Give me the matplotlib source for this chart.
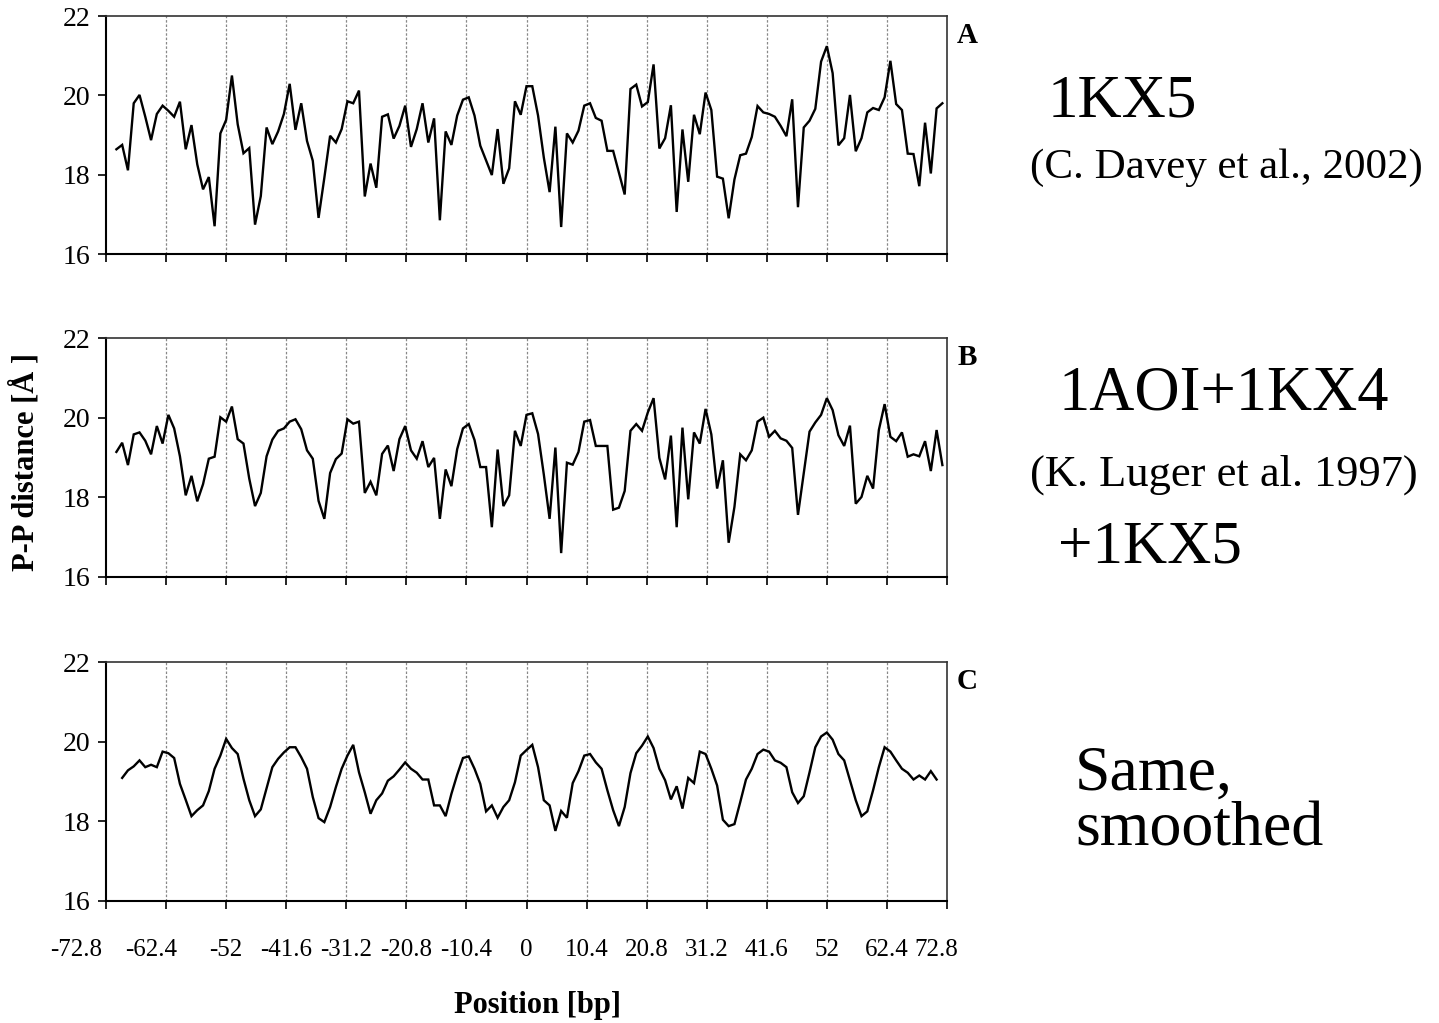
import numpy as np
import matplotlib
matplotlib.use("Agg")
import matplotlib.pyplot as plt
from matplotlib.transforms import ScaledTranslation

plt.rcParams["font.family"] = ["Liberation Serif", "DejaVu Serif"]

# Base-pair positions (panels A and B cover -71..72, smoothed panel C -70..71)
pos_ab = np.arange(-71, 73)
pos_c = np.arange(-70, 72)

# P-P distances [Å], 1KX5 crystal structure
dist_1kx5 = [
    18.64, 18.75, 18.11, 19.80, 20.01, 19.46, 18.87, 19.53, 19.74, 19.61,
    19.46, 19.84, 18.64, 19.25, 18.26, 17.63, 17.94, 16.70, 19.04, 19.38,
    20.50, 19.27, 18.54, 18.67, 16.74, 17.46, 19.19, 18.77, 19.09, 19.53,
    20.29, 19.13, 19.80, 18.85, 18.35, 16.91, 17.92, 18.98, 18.81, 19.15,
    19.85, 19.80, 20.12, 17.45, 18.28, 17.67, 19.46, 19.52, 18.91, 19.23,
    19.74, 18.70, 19.15, 19.80, 18.81, 19.42, 16.85, 19.09, 18.75, 19.49,
    19.89, 19.95, 19.49, 18.73, 18.36, 17.99, 19.15, 17.77, 18.16, 19.85,
    19.51, 20.23, 20.23, 19.49, 18.43, 17.56, 19.21, 16.68, 19.04, 18.81,
    19.11, 19.74, 19.80, 19.43, 19.36, 18.60, 18.60, 18.05, 17.50, 20.16,
    20.27, 19.72, 19.83, 20.78, 18.66, 18.92, 19.75, 17.06, 19.14, 17.82,
    19.51, 19.02, 20.07, 19.63, 17.95, 17.90, 16.90, 17.88, 18.49, 18.53,
    18.95, 19.73, 19.57, 19.53, 19.46, 19.23, 18.97, 19.90, 17.18, 19.19,
    19.36, 19.66, 20.85, 21.24, 20.56, 18.74, 18.92, 20.01, 18.59, 18.92,
    19.57, 19.68, 19.63, 19.95, 20.87, 19.78, 19.63, 18.53, 18.52, 17.71,
    19.31, 18.03, 19.67, 19.80,
]

# P-P distances [Å], 1AOI+1KX4 (K. Luger et al. 1997) + 1KX5
dist_combined = [
    19.14, 19.37, 18.81, 19.58, 19.63, 19.42, 19.08, 19.79, 19.35, 20.07,
    19.73, 19.03, 18.05, 18.54, 17.90, 18.33, 18.97, 19.02, 20.01, 19.90,
    20.28, 19.46, 19.35, 18.47, 17.78, 18.11, 19.03, 19.45, 19.67, 19.73,
    19.90, 19.96, 19.71, 19.18, 18.97, 17.91, 17.46, 18.61, 18.96, 19.10,
    19.96, 19.85, 19.90, 18.11, 18.39, 18.05, 19.09, 19.30, 18.66, 19.46,
    19.79, 19.18, 18.97, 19.41, 18.76, 18.99, 17.46, 18.70, 18.28, 19.21,
    19.73, 19.84, 19.44, 18.76, 18.76, 17.25, 19.20, 17.78, 18.05, 19.67,
    19.29, 20.07, 20.11, 19.59, 18.57, 17.46, 19.25, 16.60, 18.87, 18.82,
    19.14, 19.90, 19.94, 19.29, 19.29, 19.29, 17.69, 17.74, 18.16, 19.67,
    19.84, 19.67, 20.13, 20.49, 18.99, 18.45, 19.55, 17.25, 19.75, 17.95,
    19.63, 19.35, 20.22, 19.58, 18.22, 18.93, 16.86, 17.76, 19.08, 18.93,
    19.18, 19.90, 20.00, 19.52, 19.67, 19.48, 19.42, 19.24, 17.56, 18.60,
    19.65, 19.88, 20.07, 20.49, 20.19, 19.56, 19.29, 19.80, 17.84, 18.01,
    18.54, 18.22, 19.69, 20.34, 19.52, 19.41, 19.63, 19.02, 19.08, 19.03,
    19.41, 18.66, 19.69, 18.81,
]

# Same combined data after smoothing
dist_smoothed = [
    19.09, 19.28, 19.38, 19.53, 19.36, 19.42, 19.36, 19.75, 19.71, 19.59,
    18.94, 18.54, 18.13, 18.28, 18.40, 18.76, 19.32, 19.65, 20.07, 19.84,
    19.69, 19.07, 18.53, 18.13, 18.30, 18.83, 19.36, 19.57, 19.73, 19.86,
    19.86, 19.61, 19.32, 18.61, 18.08, 17.98, 18.36, 18.86, 19.32, 19.65,
    19.92, 19.23, 18.73, 18.19, 18.53, 18.70, 19.02, 19.13, 19.30, 19.48,
    19.32, 19.22, 19.05, 19.05, 18.40, 18.40, 18.13, 18.69, 19.17, 19.59,
    19.63, 19.32, 18.94, 18.25, 18.40, 18.09, 18.36, 18.53, 18.98, 19.65,
    19.79, 19.92, 19.36, 18.53, 18.40, 17.76, 18.26, 18.09, 18.96, 19.26,
    19.65, 19.69, 19.48, 19.32, 18.78, 18.28, 17.88, 18.36, 19.21, 19.71,
    19.90, 20.13, 19.84, 19.32, 19.03, 18.55, 18.88, 18.32, 19.09, 18.96,
    19.75, 19.69, 19.32, 18.90, 18.04, 17.88, 17.93, 18.48, 19.05, 19.32,
    19.69, 19.80, 19.75, 19.53, 19.47, 19.36, 18.73, 18.46, 18.63, 19.23,
    19.86, 20.13, 20.23, 20.05, 19.69, 19.53, 19.03, 18.53, 18.13, 18.25,
    18.78, 19.36, 19.86, 19.75, 19.53, 19.32, 19.22, 19.05, 19.15, 19.05,
    19.26, 19.05,
]

xtick_labels = ["-72.8", "-62.4", "-52", "-41.6", "-31.2", "-20.8", "-10.4", "0",
                "10.4", "20.8", "31.2", "41.6", "52", "62.4", "72.8"]
xticks = [float(t) for t in xtick_labels]
yticks = [16, 18, 20, 22]

panel_letters = ["A", "B", "C"]
series = [(pos_ab, dist_1kx5), (pos_ab, dist_combined), (pos_c, dist_smoothed)]

W, H = 1439, 1023
fig = plt.figure(figsize=(W / 100, H / 100), dpi=100)

# axes boxes in pixel coordinates: (left, top, right, bottom)
boxes = [(106, 16, 947, 254), (106, 338, 947, 577), (106, 662, 947, 901)]

# horizontal nudges (pixels) that keep the crowded end labels apart
label_shift = {0: -30, 1: -15, 14: -11}

axes = []
for i, ((l, t, r, b), (xs, ys)) in enumerate(zip(boxes, series)):
    ax = fig.add_axes([l / W, 1 - b / H, (r - l) / W, (b - t) / H])
    ax.plot(xs, ys, color="black", lw=1.7, solid_joinstyle="miter")
    ax.set_xlim(-72.8, 72.8)
    ax.set_ylim(16, 22)
    ax.set_xticks(xticks)
    ax.set_yticks(yticks)
    ax.set_yticklabels([str(v) for v in yticks], fontsize=20)
    if i == 2:
        ax.set_xticklabels(xtick_labels, fontsize=18)
    else:
        ax.set_xticklabels([])
    ax.tick_params(axis="y", direction="out", length=6, width=1.2,
                   colors="black", pad=5)
    ax.tick_params(axis="x", direction="out", length=6, width=1.2,
                   colors="black", pad=21)
    if i == 2:
        for j, lab in enumerate(ax.get_xticklabels()):
            if j in label_shift:
                lab.set_transform(lab.get_transform() + ScaledTranslation(
                    label_shift[j] / 100, 0, fig.dpi_scale_trans))
    for x in xticks[1:-1]:
        ax.axvline(x, color="#888888", lw=0.9, ls=(0, (2, 1.5)), zorder=0)
    for side in ["left", "bottom"]:
        ax.spines[side].set_linewidth(1.5)
        ax.spines[side].set_color("black")
    for side in ["top", "right"]:
        ax.spines[side].set_linewidth(1.2)
        ax.spines[side].set_color("#333333")
    ax.text(1.012, 0.92, panel_letters[i], transform=ax.transAxes,
            fontsize=21, fontweight="bold", ha="left", va="center")
    axes.append(ax)

fig.text(25 / W, 1 - 462 / H, "P-P distance [Å ]", rotation=90, fontsize=22,
         fontweight="bold", ha="center", va="center")
fig.text(538 / W, 1 - 1005 / H, "Position [bp]", fontsize=22,
         fontweight="bold", ha="center", va="center")

# structure annotations on the right
fig.text(1048 / W, 1 - 102 / H, "1KX5", fontsize=44, ha="left", va="center")
fig.text(1030 / W, 1 - 168 / H, "(C. Davey et al., 2002)", fontsize=31,
         ha="left", va="center")
fig.text(1058 / W, 1 - 395 / H, "1AOI+1KX4", fontsize=45, ha="left", va="center")
fig.text(1030 / W, 1 - 475 / H, "(K. Luger et al. 1997)", fontsize=32,
         ha="left", va="center")
fig.text(1058 / W, 1 - 548 / H, "+1KX5", fontsize=44, ha="left", va="center")
fig.text(1075 / W, 1 - 775 / H, "Same,", fontsize=46, ha="left", va="center")
fig.text(1075 / W, 1 - 830 / H, "smoothed", fontsize=46, ha="left", va="center")

fig.savefig("out.png", dpi=100)
